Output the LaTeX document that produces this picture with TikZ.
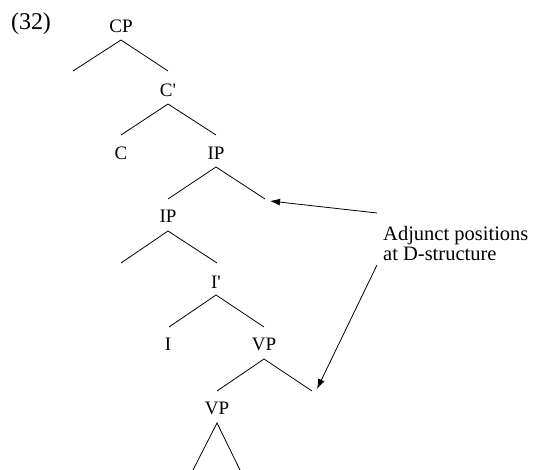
\documentclass[tikz,border=0pt]{standalone}
\usepackage{fontspec}
\setmainfont{Liberation Serif}
\usetikzlibrary{arrows.meta}
\begin{document}
\begin{tikzpicture}[x=1pt,y=-1pt,
  lab/.style={inner sep=0pt,font=\fontsize{19}{21}\selectfont},
  br/.style={line width=0.8pt},
  arr/.style={line width=0.8pt,-{Latex[length=10pt,width=7pt]}}]
\useasboundingbox (0,0) rectangle (533,470);
\node[lab,font=\fontsize{24}{26}\selectfont] (num) at (31,24) {(32)};
% CP
\node[lab] (cp) at (121,26) {CP};
\coordinate (cpa) at (121,40);
\coordinate (cpl) at (73,71);
\coordinate (cpr) at (168,71);
\draw[br] (cpl) -- (cpa) -- (cpr);
% C'
\node[lab] (cbar) at (168,90) {C\textquotesingle};
\coordinate (cba) at (168,104);
\coordinate (cbl) at (121,135);
\coordinate (cbr) at (216,135);
\draw[br] (cbl) -- (cba) -- (cbr);
\node[lab] (c) at (121,153) {C};
\node[lab] (ip1) at (216,153) {IP};
\coordinate (ip1a) at (216,167);
\coordinate (ip1l) at (168,199);
\coordinate (ip1r) at (265,199);
\draw[br] (ip1l) -- (ip1a) -- (ip1r);
% IP2
\node[lab] (ip2) at (168,216) {IP};
\coordinate (ip2a) at (168,231);
\coordinate (ip2l) at (121,263);
\coordinate (ip2r) at (217,263);
\draw[br] (ip2l) -- (ip2a) -- (ip2r);
% I'
\node[lab] (ibar) at (216,282) {I\textquotesingle};
\coordinate (iba) at (216,295);
\coordinate (ibl) at (169,327);
\coordinate (ibr) at (264,327);
\draw[br] (ibl) -- (iba) -- (ibr);
\node[lab] (i) at (168,344) {I};
\node[lab] (vp1) at (264,344) {VP};
\coordinate (vp1a) at (264,359);
\coordinate (vp1l) at (217,391);
\coordinate (vp1r) at (312,391);
\draw[br] (vp1l) -- (vp1a) -- (vp1r);
\node[lab] (vp2) at (217,408) {VP};
\coordinate (vp2a) at (217,423);
\coordinate (vp2l) at (193,470);
\coordinate (vp2r) at (240,470);
\draw[br] (vp2l) -- (vp2a) -- (vp2r);
% annotation
\node[lab,anchor=west,align=left,font=\fontsize{20.5}{20}\selectfont] (adj) at (383,243) {Adjunct positions\\at D-structure};
\coordinate (s1) at (377,213);
\coordinate (t1) at (270,201);
\coordinate (s2) at (377,265);
\coordinate (t2) at (317,389);
\draw[arr] (s1) -- (t1);
\draw[arr] (s2) -- (t2);
\end{tikzpicture}
\end{document}
